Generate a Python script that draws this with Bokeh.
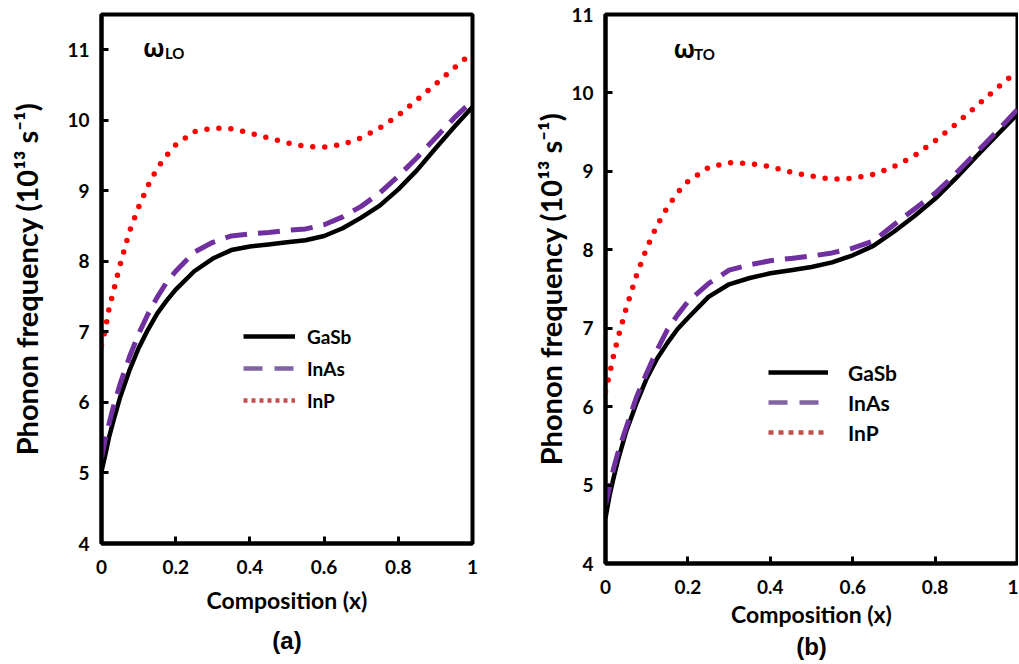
from bokeh.plotting import figure
from bokeh.layouts import row
from bokeh.models import Legend, LegendItem, Label, Title, FixedTicker
from bokeh.embed import file_html
from bokeh.resources import INLINE

NAN = float("nan")

# ---------------- data ----------------
composition = [0, 0.01, 0.02, 0.03, 0.05, 0.075, 0.1, 0.125, 0.15, 0.175, 0.2,
               0.25, 0.3, 0.35, 0.4, 0.45, 0.5, 0.55, 0.6, 0.65, 0.7, 0.75,
               0.8, 0.85, 0.9, 0.95, 1.0]

# (a) longitudinal optical phonon frequency, 10^13 s^-1
gasb_lo = [5.02, 5.25, 5.50, 5.70, 6.07, 6.45, 6.77, 7.03, 7.26, 7.44, 7.60,
           7.86, 8.04, 8.16, 8.21, 8.24, 8.27, 8.30, 8.36, 8.47, 8.62, 8.79,
           9.02, 9.29, 9.60, 9.90, 10.19]
inas_lo = [5.21, 5.48, 5.69, 5.90, 6.26, 6.64, 6.97, 7.25, 7.49, 7.70, 7.86,
           8.13, 8.27, 8.36, 8.39, 8.41, 8.44, 8.46, 8.52, 8.63, 8.78, 8.97,
           9.21, 9.47, 9.75, 10.03, 10.28]
inp_lo = [6.81, 7.03, 7.32, 7.53, 7.95, 8.42, 8.77, 9.07, 9.32, 9.50, 9.65,
          9.84, 9.89, 9.88, 9.82, 9.75, 9.68, 9.63, 9.62, 9.66, 9.75, 9.89,
          10.07, 10.29, 10.51, 10.74, 10.96]

# (b) transverse optical phonon frequency, 10^13 s^-1
gasb_to = [4.58, 4.87, 5.10, 5.31, 5.68, 6.04, 6.36, 6.61, 6.81, 6.99, 7.13,
           7.40, 7.56, 7.64, 7.70, 7.74, 7.78, 7.84, 7.93, 8.05, 8.23, 8.43,
           8.65, 8.91, 9.19, 9.46, 9.73]
inas_to = [4.75, 4.98, 5.22, 5.41, 5.73, 6.12, 6.43, 6.72, 6.98, 7.17, 7.34,
           7.57, 7.74, 7.81, 7.86, 7.89, 7.92, 7.96, 8.02, 8.11, 8.32, 8.52,
           8.72, 8.97, 9.24, 9.51, 9.79]
inp_to = [6.19, 6.42, 6.66, 6.87, 7.25, 7.67, 8.02, 8.31, 8.54, 8.73, 8.87,
          9.05, 9.11, 9.10, 9.06, 8.99, 8.94, 8.90, 8.91, 8.96, 9.06, 9.20,
          9.39, 9.60, 9.83, 10.06, 10.28]

series_names = ["GaSb", "InAs", "InP"]
x_ticks = [0, 0.2, 0.4, 0.6, 0.8, 1]
x_tick_labels = ["0", "0.2", "0.4", "0.6", "0.8", "1"]
y_ticks = [4, 5, 6, 7, 8, 9, 10, 11]
x_title = "Composition (x)"
y_title = "Phonon frequency (10¹³ s⁻¹)"

FONT = "Lato"


def make_panel(width, height, ylim, borders, ydata, mode_sub, panel_tag,
               legend_cfg, omega_pos, ylab_standoff, xlab_standoff,
               xtick_standoff, tag_standoff):
    bl, br, bt, bb = borders
    p = figure(width=width, height=height, x_range=(0, 1), y_range=ylim,
               output_backend="svg", toolbar_location=None, title=None,
               min_border_left=bl, min_border_right=br,
               min_border_top=bt, min_border_bottom=bb,
               background_fill_color="white", border_fill_color="white")
    p.frame_align = False
    p.xgrid.visible = False
    p.ygrid.visible = False
    p.outline_line_color = "black"
    p.outline_line_width = 4

    for ax in (p.xaxis[0], p.yaxis[0]):
        ax.axis_line_width = 4
        ax.axis_line_color = "black"
        ax.major_tick_in = 7
        ax.major_tick_out = 0
        ax.major_tick_line_width = 3
        ax.minor_tick_line_color = None
        ax.major_label_text_font = FONT
        ax.major_label_text_font_style = "bold"
        ax.major_label_text_font_size = "19px"
        ax.major_label_text_color = "black"
        ax.axis_label_text_font = FONT
        ax.axis_label_text_font_style = "bold"
        ax.axis_label_text_color = "black"

    p.xaxis.ticker = FixedTicker(ticks=x_ticks)
    p.xaxis.major_label_overrides = {t: s for t, s in zip(x_ticks, x_tick_labels)}
    p.yaxis.ticker = FixedTicker(ticks=y_ticks)
    p.xaxis.axis_label = x_title
    p.yaxis.axis_label = y_title
    p.xaxis.axis_label_text_font_size = "23px"
    p.yaxis.axis_label_text_font_size = "29px"
    p.xaxis.major_label_standoff = xtick_standoff
    p.yaxis.major_label_standoff = 12
    p.xaxis.axis_label_standoff = xlab_standoff
    p.yaxis.axis_label_standoff = ylab_standoff

    g, a, i = ydata
    p.line(composition, g, line_color="black", line_width=4.5)
    p.line(composition, a, line_color="#7030A0", line_width=5, line_dash="22 11")
    p.line(composition, i, line_color="#FF0000", line_width=5.5,
           line_dash="0 12", line_cap="round")

    # legend samples (styled as in the original legend; not drawn in the plot)
    gw, gh, fs, standoff, lx, ly, dot = legend_cfg
    r1 = p.line([NAN, NAN], [NAN, NAN], line_color="black", line_width=4.5)
    r2 = p.line([NAN, NAN], [NAN, NAN], line_color="#8064A2", line_width=4.5,
                line_dash="19 12")
    r3 = p.line([NAN, NAN], [NAN, NAN], line_color="#C0504D", line_width=4.5,
                line_dash=dot)
    legend = Legend(items=[LegendItem(label=series_names[0], renderers=[r1]),
                           LegendItem(label=series_names[1], renderers=[r2]),
                           LegendItem(label=series_names[2], renderers=[r3])],
                    location=(lx, ly), glyph_width=gw, glyph_height=gh,
                    label_height=gh, spacing=0, padding=0, margin=0,
                    label_standoff=standoff, label_text_font=FONT,
                    label_text_font_style="bold", label_text_font_size=fs,
                    label_text_color="black",
                    border_line_color=None, background_fill_alpha=0)
    p.add_layout(legend)

    ox, oy, sx, sy = omega_pos
    p.add_layout(Label(x=ox, y=oy, text="ω", text_font="Noto Sans",
                       text_font_style="bold", text_font_size="25px",
                       text_baseline="alphabetic", text_color="black"))
    p.add_layout(Label(x=sx, y=sy, text=mode_sub, text_font=FONT,
                       text_font_style="bold", text_font_size="15px",
                       text_baseline="alphabetic", text_color="black"))

    p.add_layout(Title(text=panel_tag, align="center", text_font="Liberation Sans",
                       text_font_style="bold", text_font_size="24px",
                       text_color="black", standoff=tag_standoff), "below")
    return p


pa = make_panel(530, 662, (4, 11.5), (101, 58, 14, 119),
                (gasb_lo, inas_lo, inp_lo), "LO", "(a)",
                (52, 32, "19px", 12, 142, 127, "4 4"),
                (0.112, 11.04, 0.171, 10.96), 20, 9, 16, 17)
pb = make_panel(488, 662, (4, 11), (75, 1, 14, 99),
                (gasb_to, inas_to, inp_to), "TO", "(b)",
                (60, 30, "21px", 20, 163, 116, "5 5"),
                (0.165, 10.57, 0.215, 10.50), 0, 3, 16, 0)

layout = row(pa, pb, spacing=0)
open("out.html", "w").write(file_html(layout, INLINE))
